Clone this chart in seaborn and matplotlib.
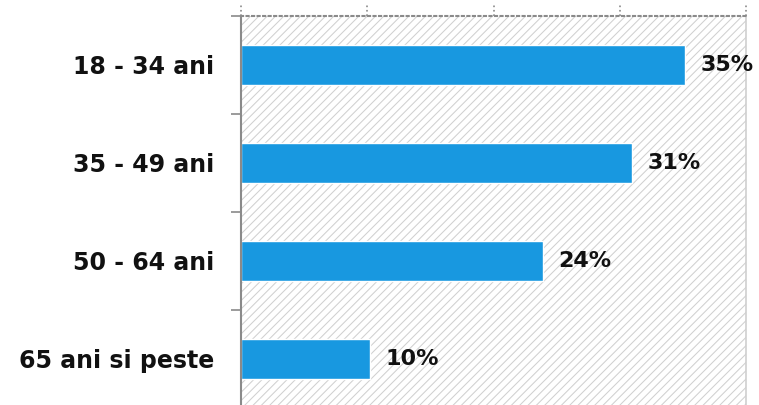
import matplotlib
matplotlib.use("Agg")
import matplotlib.pyplot as plt
import matplotlib.transforms as mtransforms
from matplotlib.patches import Rectangle
import seaborn as sns
import pandas as pd

categories = ["18 - 34 ani", "35 - 49 ani", "50 - 64 ani", "65 ani si peste"]
values = [0.352, 0.31, 0.239, 0.102]
labels = ["35%", "31%", "24%", "10%"]
xticks = [0.0, 0.1, 0.2, 0.3, 0.4]

sns.set_theme(style="white")
plt.rcParams['font.family'] = ['DejaVu Sans']
plt.rcParams['hatch.color'] = '#d0d0d0'
plt.rcParams['hatch.linewidth'] = 0.75

FS = 17
TXT = '#111111'

df = pd.DataFrame({"cat": categories, "val": values})

fig = plt.figure(figsize=(7.59, 4.05), dpi=100)
ax = fig.add_axes([241/759, 1 - 408/405, (746-241)/759, (408-16)/405])

# hatched background
ax.add_patch(Rectangle((0, 0), 1, 1, transform=ax.transAxes, facecolor='white',
                       edgecolor='#d0d0d0', hatch='////', linewidth=0, zorder=0))

sns.barplot(data=df, y="cat", x="val", orient="h", color="#1898e0", saturation=1,
            width=0.4, ax=ax, zorder=2)

ax.set_xlim(0, 0.4)
ax.set_ylim(3.5, -0.5)
ax.set_xlabel("")
ax.set_ylabel("")

# category labels
ax.set_yticks(range(len(categories)))
ax.set_yticklabels(categories, fontsize=FS, fontweight='bold', color=TXT)
ax.tick_params(axis='y', which='major', length=0, pad=19)
ax.set_yticks([i - 0.5 for i in range(len(categories) + 1)], minor=True)
ax.tick_params(axis='y', which='minor', length=7, width=1.2, color='#8a8a8a', left=True)

# top axis ticks, dotted
ax.set_xticks(xticks)
ax.tick_params(axis='x', which='major', length=0, labelbottom=False, labeltop=False)
trans = mtransforms.blended_transform_factory(ax.transData, ax.transAxes)
for t in xticks:
    ax.plot([t, t], [1.0, 1.028], transform=trans, color='#8a8a8a', linestyle=':',
            linewidth=1.2, clip_on=False, zorder=3)

for side in ['top', 'right', 'left', 'bottom']:
    ax.spines[side].set_visible(True)
ax.spines['top'].set_color('#8a8a8a')
ax.spines['top'].set_linestyle(':')
ax.spines['top'].set_linewidth(1.5)
ax.spines['right'].set_color('#cfcfcf')
ax.spines['right'].set_linewidth(1.2)
ax.spines['left'].set_color('#8a8a8a')
ax.spines['left'].set_linewidth(1.5)
ax.spines['bottom'].set_visible(False)

for i, (v, lab) in enumerate(zip(values, labels)):
    ax.annotate(lab, xy=(v, i), xytext=(11, 0), textcoords='offset points',
                va='center', ha='left', fontsize=FS - 1, fontweight='bold', color=TXT)

fig.savefig("out.png", dpi=100)
